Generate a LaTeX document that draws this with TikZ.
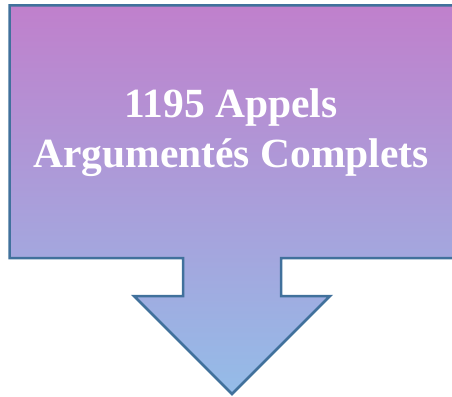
\documentclass[tikz,border=0pt]{standalone}
\usepackage{fontspec}
\setmainfont{Liberation Serif}
\definecolor{calloutborder}{RGB}{65,113,156}
\definecolor{callouttop}{RGB}{192,128,204}
\definecolor{calloutbottom}{RGB}{148,188,232}
\usetikzlibrary{positioning}
\tikzset{
	calloutshape/.style={
			draw=calloutborder,
			line width=2.5pt,
			line join=miter,
			top color=callouttop,
			bottom color=calloutbottom
		},
	callouttext/.style={
			text=white,
			align=center,
			inner sep=0pt,
			font=\fontsize{41.5}{50}\selectfont\bfseries
		}
}
\begin{document}
\begin{tikzpicture}[x=1pt, y=-1pt]
\useasboundingbox (0,0) rectangle (452,396);

% box with downward arrow
\draw[calloutshape] (9.5,5.5) -- (458,5.5) -- (458,258) -- (281,258) -- (281,296)
  -- (330,296) -- (232,394) -- (134,296) -- (183,296) -- (183,258) -- (9.5,258) -- cycle;

\node[callouttext] (count) at (231,133) {1195 Appels\\Argumentés Complets};
\end{tikzpicture}
\end{document}
